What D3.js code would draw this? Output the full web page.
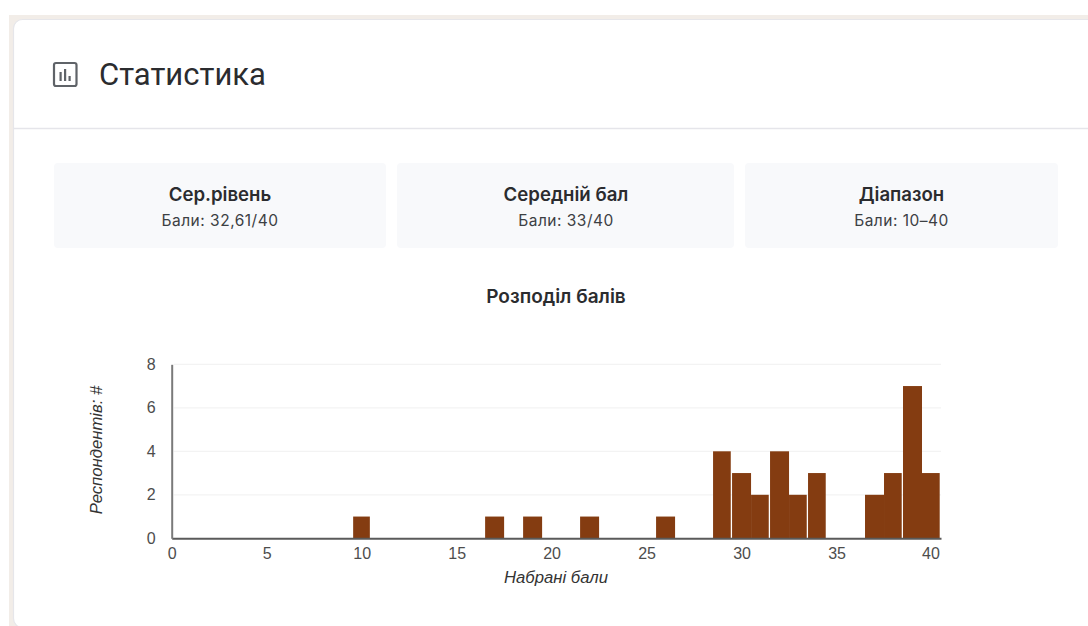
<!DOCTYPE html>
<html lang="uk">
<head>
<meta charset="utf-8">
<script src="https://cdn.jsdelivr.net/npm/d3@7"></script>
<style>
html,body{margin:0;padding:0;background:#fff;overflow:hidden}
svg{display:block}
</style>
</head>
<body>
<svg id="chart" width="1088" height="626"></svg>
<script>
const scores = [10, 17, 19, 22, 26, 29, 30, 31, 32, 33, 34, 37, 38, 39, 40];
const respondents = [1, 1, 1, 1, 1, 4, 3, 2, 4, 2, 3, 2, 3, 7, 3];
const xTicks = [0, 5, 10, 15, 20, 25, 30, 35, 40];
const yTicks = [0, 2, 4, 6, 8];
const statTitles = ["Сер.рівень", "Середній бал", "Діапазон"];
const statValues = ["Бали: 32,61/40", "Бали: 33/40", "Бали: 10–40"];
const heading = "Статистика";
const chartTitle = "Розподіл балів";
const xTitle = "Набрані бали";
const yTitle = "Респондентів: #";

const uiFont = "Inter,Roboto,sans-serif";
const axisFont = "'Liberation Sans',Arial,sans-serif";
const svg = d3.select("#chart");

// Page frame and card
svg.append("rect").attr("x", 9).attr("y", 15).attr("width", 1079).attr("height", 611).attr("fill", "#f2ede8");
svg.append("rect").attr("x", 13.5).attr("y", 19.5).attr("width", 1085).attr("height", 608)
  .attr("rx", 9).attr("fill", "#fff").attr("stroke", "#e6e6ea").attr("stroke-width", 1.2);
svg.append("line").attr("x1", 14).attr("x2", 1088).attr("y1", 128.5).attr("y2", 128.5)
  .attr("stroke", "#e5e5ea").attr("stroke-width", 1.5);

// Heading icon
const icon = svg.append("g").attr("transform", "translate(53,62)");
icon.append("rect").attr("x", 1).attr("y", 1).attr("width", 22.5).attr("height", 23).attr("rx", 2)
  .attr("fill", "none").attr("stroke", "#5f6368").attr("stroke-width", 2.2);
[[6.5, 10, 9], [11, 7, 12], [15.5, 14, 5]].forEach(([bx, by, bh]) =>
  icon.append("rect").attr("x", bx).attr("y", by).attr("width", 2.2).attr("height", bh).attr("fill", "#5f6368"));

svg.append("text").attr("x", 99).attr("y", 85).attr("font-family", "Roboto,sans-serif")
  .attr("font-size", 31).attr("fill", "#2b2c2f").text(heading);

// Stat tiles
const tileX = [[54, 386], [397, 734], [745, 1058]];
statTitles.forEach((t, i) => {
  const [a, b] = tileX[i], mid = [220, 566, 901.5][i];
  svg.append("rect").attr("x", a).attr("y", 163).attr("width", b - a).attr("height", 85).attr("rx", 4).attr("fill", "#f8f9fb");
  svg.append("text").attr("x", mid).attr("y", 200.5).attr("text-anchor", "middle").attr("font-family", uiFont)
    .attr("font-size", 18.6).attr("font-weight", 600).attr("fill", "#2b2c2f").text(t);
  svg.append("text").attr("x", mid).attr("y", 225.5).attr("text-anchor", "middle").attr("font-family", uiFont)
    .attr("font-size", 15.5).attr("letter-spacing", 0.5).attr("fill", "#3c4043").text(statValues[i]);
});

svg.append("text").attr("x", 556).attr("y", 302.5).attr("text-anchor", "middle").attr("font-family", uiFont)
  .attr("font-size", 19).attr("font-weight", 600).attr("fill", "#2b2c2f").text(chartTitle);

// Chart
const x = d3.scaleLinear().domain([0, 40.5]).range([171.7, 941]);
const y = d3.scaleLinear().domain([0, 8]).range([538.3, 364.3]);

svg.append("g").selectAll("line").data(yTicks.filter(d => d > 0)).join("line")
  .attr("x1", x(0) + 2).attr("x2", x.range()[1])
  .attr("y1", d => y(d)).attr("y2", d => y(d))
  .attr("stroke", "#f3f3f3").attr("stroke-width", 1.2);

// Hairline gaps left by pixel snapping in the reference
const insetLeft = new Set([10]);
const insetRight = new Set([10, 29, 31, 33, 34, 38, 40]);
const bars = d3.zip(scores, respondents);
svg.append("g").selectAll("rect").data(bars).join("rect")
  .attr("x", d => x(d[0] - 0.5) + (insetLeft.has(d[0]) ? 1 : 0))
  .attr("y", d => y(d[1]))
  .attr("width", d => x(d[0] + 0.5) - x(d[0] - 0.5) - (insetLeft.has(d[0]) ? 1 : 0) - (insetRight.has(d[0]) ? 1.3 : 0))
  .attr("height", d => y(0) - y(d[1]))
  .attr("fill", "#843c11");

const xAxis = svg.append("g").attr("transform", `translate(0,${y(0)})`)
  .call(d3.axisBottom(x).tickValues(xTicks).tickSize(0).tickPadding(9));
xAxis.attr("font-family", axisFont);
xAxis.select(".domain").attr("stroke", "#5a5a5a").attr("stroke-width", 2);
xAxis.selectAll("text").attr("font-size", 16).attr("fill", "#4d4d4d")
  .attr("dx", d => d === 40 ? -1 : 0);

const yAxis = svg.append("g").attr("transform", `translate(${x(0)},0)`)
  .call(d3.axisLeft(y).tickValues(yTicks).tickSize(0).tickPadding(16));
yAxis.attr("font-family", axisFont);
yAxis.select(".domain").attr("stroke", "#7a7a7a").attr("stroke-width", 2);
yAxis.selectAll("text").attr("font-size", 16).attr("fill", "#4d4d4d");

svg.append("text").attr("x", 556).attr("y", 583).attr("text-anchor", "middle")
  .attr("font-size", 16.7).attr("font-style", "italic").attr("font-family", axisFont)
  .attr("fill", "#333").text(xTitle);
svg.append("text").attr("transform", "translate(102,450) rotate(-90)").attr("text-anchor", "middle")
  .attr("font-size", 16.7).attr("font-style", "italic").attr("font-family", axisFont)
  .attr("fill", "#333").text(yTitle);
</script>
</body>
</html>
